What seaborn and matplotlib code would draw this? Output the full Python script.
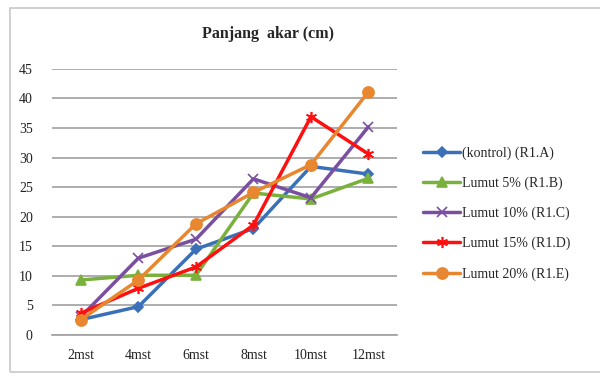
import numpy as np
import pandas as pd
import matplotlib
matplotlib.use("Agg")
import matplotlib.pyplot as plt
import seaborn as sns
from matplotlib.patches import Rectangle

# Data
weeks = ["2mst", "4mst", "6mst", "8mst", "10mst", "12mst"]
series_names = ["(kontrol) (R1.A)", "Lumut 5% (R1.B)", "Lumut 10% (R1.C)",
                "Lumut 15% (R1.D)", "Lumut 20% (R1.E)"]
kontrol = [2.6, 4.8, 14.5, 18.0, 28.5, 27.2]
lumut_5 = [9.3, 10.1, 10.1, 24.0, 23.0, 26.5]
lumut_10 = [3.1, 13.0, 16.2, 26.4, 23.2, 35.2]
lumut_15 = [3.7, 7.9, 11.5, 18.6, 36.9, 30.6]
lumut_20 = [2.6, 9.3, 18.8, 24.1, 28.8, 41.1]

colors = ["#3a70b8", "#7ab13d", "#7a4fa0", "#ff1010", "#e8872f"]
markers = ["D", "^", "x", (6, 2, 0), "o"]
sizes = [5, 7, 7, 8, 8]

rows = []
for name, vals in zip(series_names, [kontrol, lumut_5, lumut_10, lumut_15, lumut_20]):
    for w, v in zip(weeks, vals):
        rows.append({"minggu": w, "panjang": v, "seri": name})
df = pd.DataFrame(rows)

sns.set_style("white")
plt.rcParams["font.family"] = ["Liberation Serif", "DejaVu Serif"]

fig = plt.figure(figsize=(6, 3.76), dpi=100)
ax = fig.add_axes([0.087, 0.109, 0.575, 0.708])

for name, c, m, s in zip(series_names, colors, markers, sizes):
    sub = df[df["seri"] == name]
    sns.lineplot(data=sub, x="minggu", y="panjang", ax=ax, color=c, marker=m,
                 markersize=s, linewidth=2.5, label=name, sort=False,
                 markeredgecolor=c, markeredgewidth=1.2)

ax.set_xlim(-0.5, 5.5)
ax.set_ylim(0, 45)
ax.set_yticks(np.arange(0, 46, 5))
ax.yaxis.grid(True, color="#a0a0a0", linewidth=1.2)
ax.xaxis.grid(False)
ax.set_axisbelow(True)
for sp in ["top", "right", "left"]:
    ax.spines[sp].set_visible(False)
ax.spines["bottom"].set_color("#a0a0a0")
ax.spines["bottom"].set_linewidth(1.2)
ax.tick_params(axis="both", length=0, labelsize=10, colors="#222222")
ax.tick_params(axis="x", pad=10)
ax.tick_params(axis="y", pad=14)
ax.set_xlabel("")
ax.set_ylabel("")

fig.text(0.447, 0.91, "Panjang  akar (cm)", ha="center", va="center",
         fontsize=11.5, fontweight="bold")

leg = ax.legend(loc="upper left", bbox_to_anchor=(1.04, 0.755), frameon=False,
                fontsize=10, handlelength=2.6, labelspacing=1.2, handletextpad=0.2)

fig.patches.append(Rectangle((0.017, 0.011), 1.2, 0.968, transform=fig.transFigure,
                             fill=False, edgecolor="#c8c8c8", linewidth=1.2))

fig.savefig("out.png", dpi=100)
